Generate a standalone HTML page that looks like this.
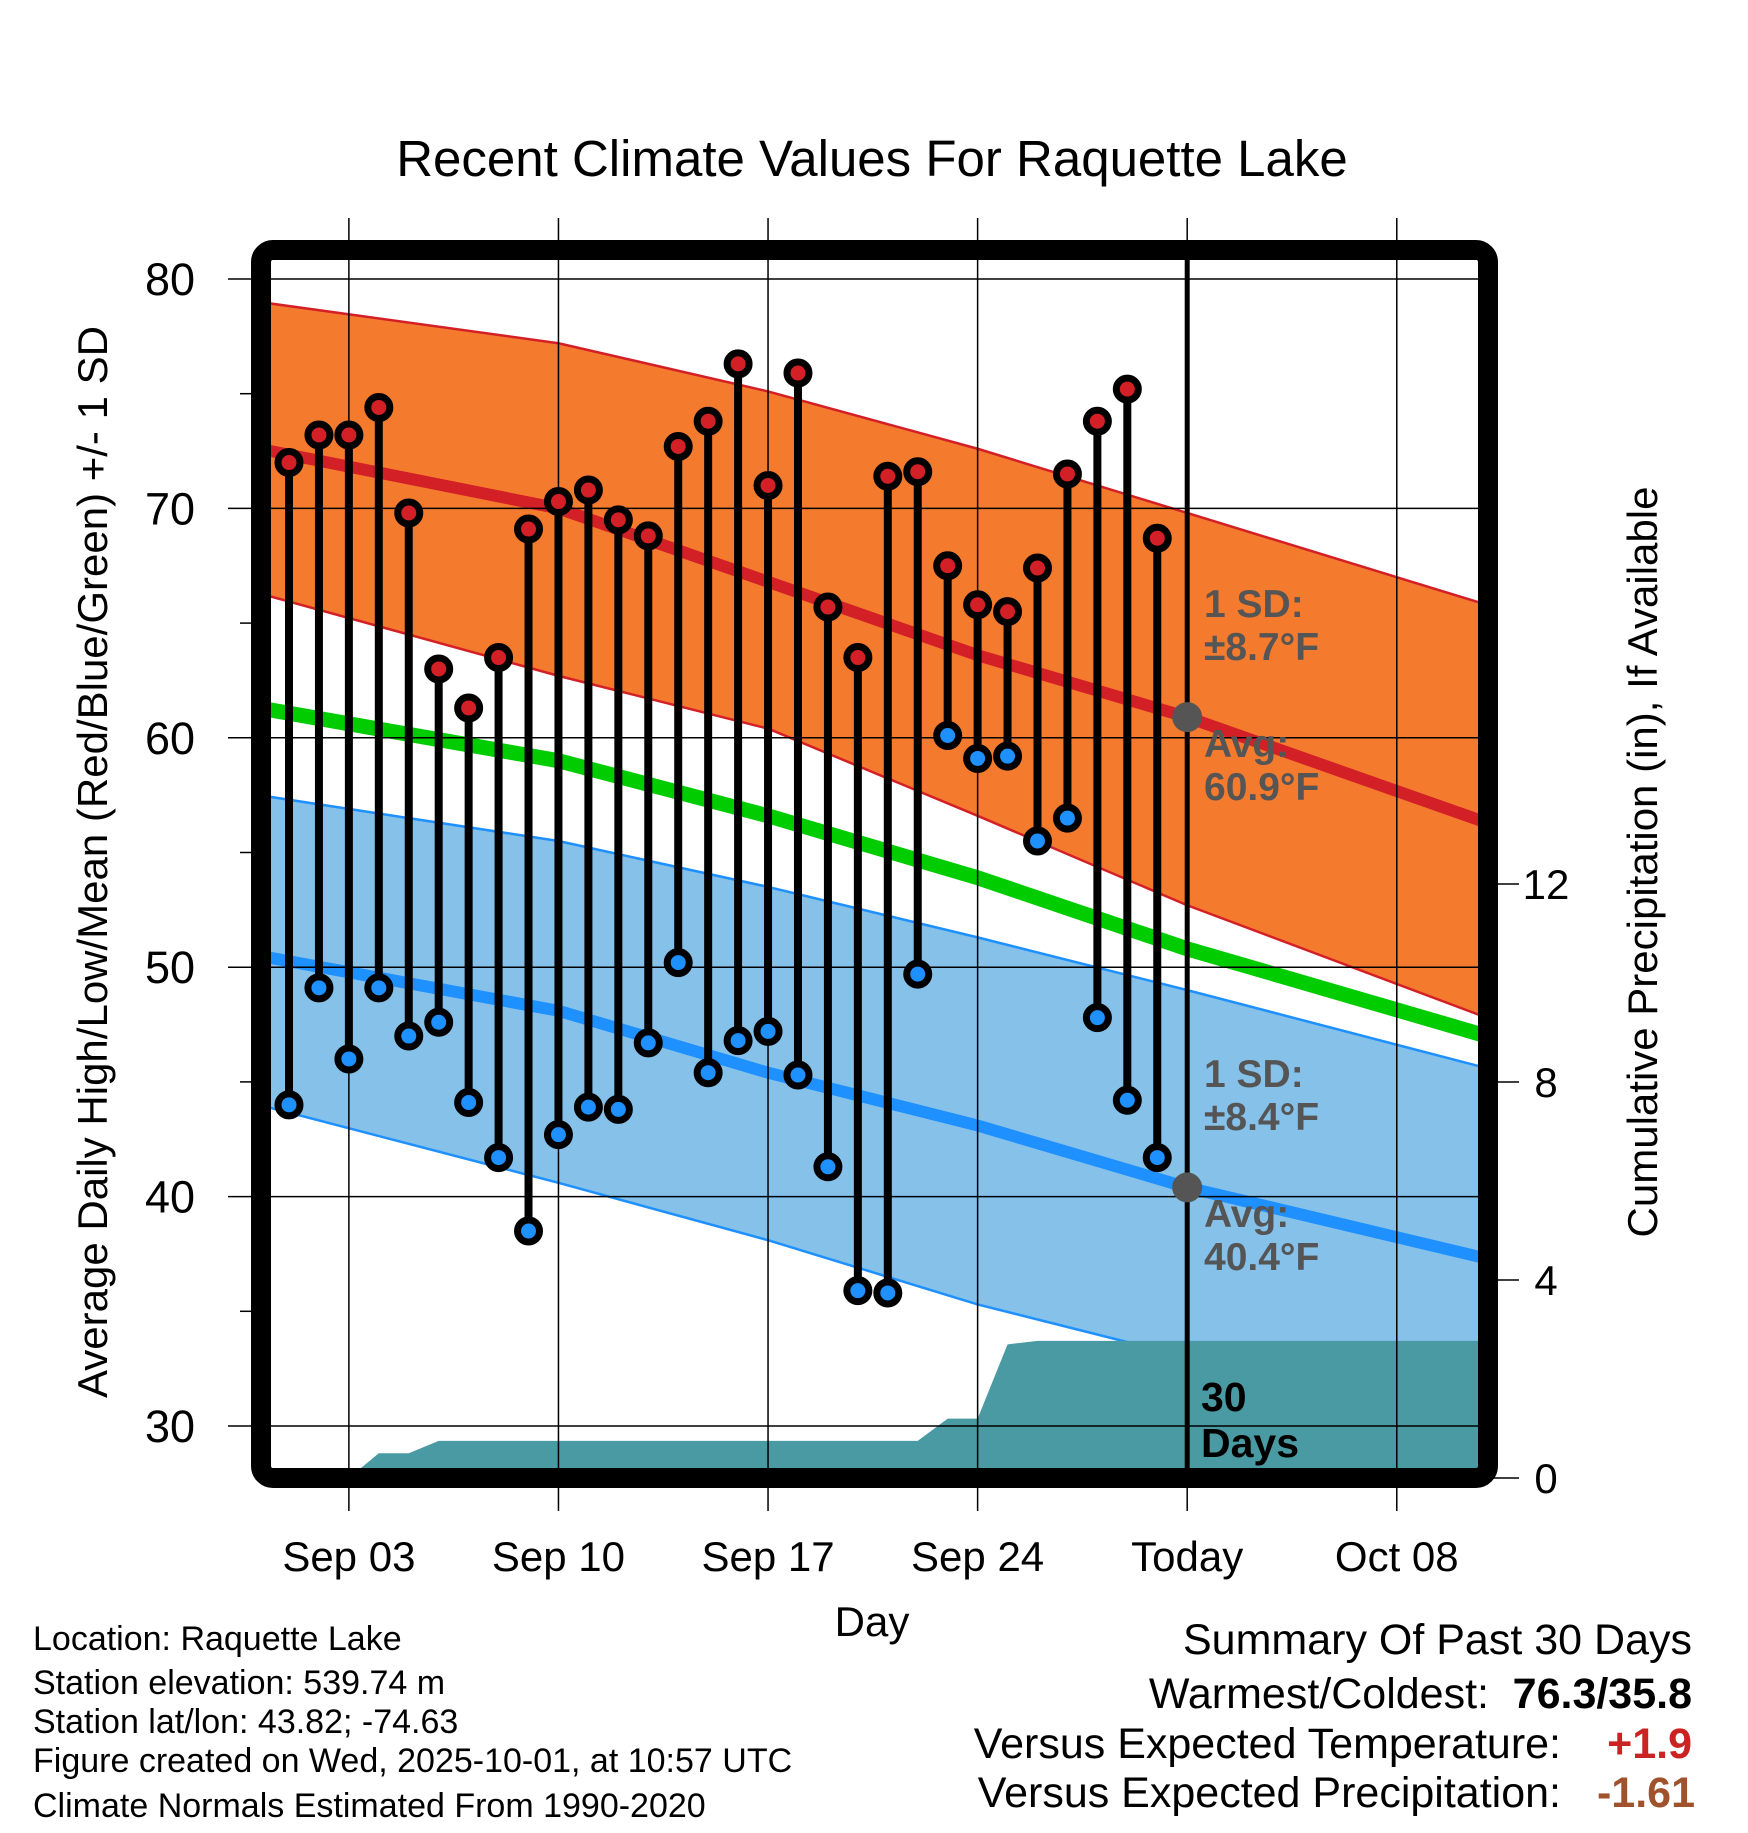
<!DOCTYPE html>
<html><head><meta charset="utf-8"><style>
body{margin:0;background:#fff}
svg text{font-family:"Liberation Sans",Arial,sans-serif}
</style></head><body>
<svg id="c" width="1748" height="1828" viewBox="0 0 1748 1828" xmlns="http://www.w3.org/2000/svg">
<defs><clipPath id="pc"><rect x="270" y="260" width="1208" height="1208"/></clipPath></defs>
<g id="plot" clip-path="url(#pc)"></g>
<g id="over"></g>
</svg>
<script>
// Data (day index: 0 = Sep 01)
const highs=[72.0,73.2,73.2,74.4,69.8,63.0,61.3,63.5,69.1,70.3,70.8,69.5,68.8,72.7,73.8,76.3,71.0,75.9,65.7,63.5,71.4,71.6,67.5,65.8,65.5,67.4,71.5,73.8,75.2,68.7];
const lows=[44.0,49.1,46.0,49.1,47.0,47.6,44.1,41.7,38.5,42.7,43.9,43.8,46.7,50.2,45.4,46.8,47.2,45.3,41.3,35.9,35.8,49.7,60.1,59.1,59.2,55.5,56.5,47.8,44.2,41.7];
const precip=[0,0,0,0.5,0.5,0.75,0.75,0.75,0.75,0.75,0.75,0.75,0.75,0.75,0.75,0.75,0.75,0.75,0.75,0.75,0.75,0.75,1.2,1.2,2.7,2.77,2.77,2.77,2.77,2.77,2.77,2.77,2.77,2.77,2.77,2.77,2.77,2.77,2.77,2.77,2.77,2.77];
const normDays=[-1,9,16,23,30,40];
const hiUpper=[79.0,77.2,75.1,72.6,69.8,65.8];
const hiAvg=[72.6,70.0,66.8,63.6,60.9,56.3];
const hiLower=[66.3,62.7,60.4,56.6,52.7,47.8];
const meanAvg=[61.3,59.0,56.6,53.9,50.8,47.0];
const loUpper=[57.5,55.5,53.5,51.3,49.0,45.6];
const loAvg=[50.5,48.1,45.4,43.1,40.4,37.3];
const loLower=[44.0,40.6,38.1,35.3,33.0,29.5];
const yTicks=[30,40,50,60,70,80];
const pTicks=[0,4,8,12];
const xTickDays=[2,9,16,23,30,37];
const xTickLabels=["Sep 03","Sep 10","Sep 17","Sep 24","Today","Oct 08"];
const todayIdx=30;

const X=d=>289+d*29.94;
const Y=v=>279+(80-v)*22.94;
const P=v=>1478-v*49.5;
const NS="http://www.w3.org/2000/svg";
function el(tag,attrs,parent,txt){const e=document.createElementNS(NS,tag);for(const k in attrs)e.setAttribute(k,attrs[k]);if(txt!==undefined)e.textContent=txt;parent.appendChild(e);return e;}
const svg=document.getElementById('c'),plot=document.getElementById('plot'),over=document.getElementById('over');
const pts=(arr)=>normDays.map((d,i)=>X(d)+','+Y(arr[i])).join(' ');
const band=(up,lo)=>pts(up)+' '+normDays.map((d,i)=>[X(d),Y(lo[i])]).reverse().map(p=>p.join(',')).join(' ');

let e;
e=el('polygon',{points:band(hiUpper,hiLower),fill:'#f47a2e'},plot);

e=el('polygon',{points:band(loUpper,loLower),fill:'#85c1e9'},plot);

[[hiUpper,'#d32027',2.5],[hiLower,'#d32027',2.5],[loUpper,'#1e90ff',2.5],[loLower,'#1e90ff',2.5]].forEach(([a,c,w])=>{
 e=el('polyline',{points:pts(a),fill:'none',stroke:c,'stroke-width':w},plot);
 });
e=el('polyline',{points:pts(meanAvg),fill:'none',stroke:'#00cc00','stroke-width':15},plot);

e=el('polyline',{points:pts(hiAvg),fill:'none',stroke:'#d32027','stroke-width':12},plot);

e=el('polyline',{points:pts(loAvg),fill:'none',stroke:'#1e90ff','stroke-width':12},plot);

// precip
let pp=precip.map((v,i)=>X(i)+','+P(v)).join(' ');
e=el('polygon',{points:X(0)+','+P(0)+' '+pp+' '+X(precip.length-1)+','+P(0),fill:'#4a9aa3'},plot);

// horizontal grid
yTicks.forEach(v=>{e=el('line',{x1:228,x2:1478,y1:Y(v),y2:Y(v),stroke:'#000','stroke-width':1.5},over);
 
 e=el('text',{x:170,y:Y(v)+16,'font-size':45,'text-anchor':'middle'},over,String(v));
 });
[35,45,55,65,75].forEach(v=>{e=el('line',{x1:240,x2:252,y1:Y(v),y2:Y(v),stroke:'#000','stroke-width':1.5},over);
 });
pTicks.forEach(v=>{e=el('line',{x1:1490,x2:1519,y1:P(v),y2:P(v),stroke:'#000','stroke-width':1.5},over);
 
 e=el('text',{x:1546,y:P(v)+15,'font-size':42,'text-anchor':'middle'},over,String(v));
 });
// vertical grid
xTickDays.forEach((d,i)=>{e=el('line',{x1:X(d),x2:X(d),y1:218,y2:1511,stroke:'#000','stroke-width':1.5},over);
 
 e=el('text',{x:X(d),y:1571,'font-size':42,'text-anchor':'middle'},over,xTickLabels[i]);
 });
// today line
e=el('line',{x1:X(todayIdx),x2:X(todayIdx),y1:255,y2:1470,stroke:'#000','stroke-width':5},over);

// stems and dots
highs.forEach((h,i)=>{e=el('line',{x1:X(i),x2:X(i),y1:Y(h),y2:Y(lows[i]),stroke:'#000','stroke-width':8},over);
 });
highs.forEach((h,i)=>{e=el('circle',{cx:X(i),cy:Y(h),r:11,fill:'#d32027',stroke:'#000','stroke-width':7},over);
 
 e=el('circle',{cx:X(i),cy:Y(lows[i]),r:11,fill:'#1e90ff',stroke:'#000','stroke-width':7},over);
 });
e=el('circle',{cx:X(todayIdx),cy:Y(hiAvg[4]),r:15,fill:'#555'},over);

e=el('circle',{cx:X(todayIdx),cy:Y(loAvg[4]),r:15,fill:'#555'},over);

// frame
e=el('rect',{x:261,y:250,width:1227,height:1228,rx:12,fill:'none',stroke:'#000','stroke-width':20},over);

</script>
<svg width="1748" height="1828" style="position:absolute;left:0;top:0">
<text x="872" y="176" font-size="51" text-anchor="middle">Recent Climate Values For Raquette Lake</text>
<text transform="translate(107,862) rotate(-90)" font-size="42" text-anchor="middle">Average Daily High/Low/Mean (Red/Blue/Green) +/- 1 SD</text>
<text transform="translate(1657,862) rotate(-90)" font-size="42" text-anchor="middle">Cumulative Precipitation (in), If Available</text>
<text x="872" y="1636" font-size="42" text-anchor="middle">Day</text>
<g font-size="39" font-weight="bold" fill="#555">
<text x="1204" y="617">1 SD:</text>
<text x="1204" y="660">±8.7°F</text>
<text x="1204" y="757">Avg:</text>
<text x="1204" y="800">60.9°F</text>
<text x="1204" y="1087">1 SD:</text>
<text x="1204" y="1130">±8.4°F</text>
<text x="1204" y="1227">Avg:</text>
<text x="1204" y="1270">40.4°F</text>
</g>
<g font-size="41" font-weight="bold">
<text x="1201" y="1411">30</text>
<text x="1201" y="1457">Days</text>
</g>
<g font-size="34">
<text x="33" y="1650">Location: Raquette Lake</text>
<text x="33" y="1694">Station elevation: 539.74 m</text>
<text x="33" y="1733">Station lat/lon: 43.82; -74.63</text>
<text x="33" y="1772">Figure created on Wed, 2025-10-01, at 10:57 UTC</text>
<text x="33" y="1817">Climate Normals Estimated From 1990-2020</text>
</g>
<g font-size="43" text-anchor="end">
<text x="1692" y="1654">Summary Of Past 30 Days</text>
<text x="1489" y="1708">Warmest/Coldest:</text>
<text x="1692" y="1708" font-weight="bold">76.3/35.8</text>
<text x="1561" y="1758">Versus Expected Temperature:</text>
<text x="1692" y="1758" font-weight="bold" fill="#cc2222">+1.9</text>
<text x="1561" y="1807">Versus Expected Precipitation:</text>
<text x="1695" y="1807" font-weight="bold" fill="#a0522d">-1.61</text>
</g>
</svg>
</body></html>
